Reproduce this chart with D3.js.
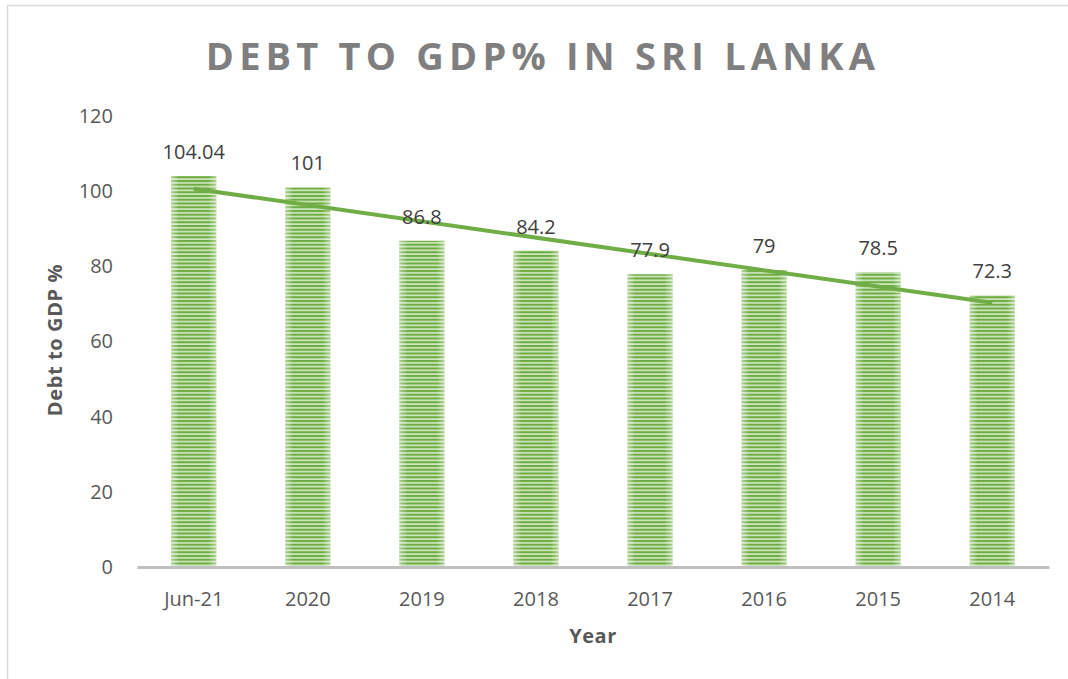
<!DOCTYPE html>
<html>
<head>
<meta charset="utf-8">
<script src="https://cdn.jsdelivr.net/npm/d3@7"></script>
<style>
  body { margin: 0; background: #fff; }
  #chart { width: 1068px; height: 679px; }
  text { font-family: "Open Sans", "Noto Sans", sans-serif; }
</style>
</head>
<body>
<div id="chart"></div>
<script>
const categories = ["Jun-21", "2020", "2019", "2018", "2017", "2016", "2015", "2014"];
const debtValues = [104.04, 101, 86.8, 84.2, 77.9, 79, 78.5, 72.3];
const valueLabels = ["104.04", "101", "86.8", "84.2", "77.9", "79", "78.5", "72.3"];
const yTicks = [0, 20, 40, 60, 80, 100, 120];

const size = {
    width: 1068,
    height: 679,
    margin: { top: 116, right: 19, bottom: 112, left: 137 }
};

const svg = d3.select("#chart").append("svg")
    .attr("width", size.width)
    .attr("height", size.height);

// chart frame
svg.append("rect")
    .attr("x", 7.5).attr("y", 5.5)
    .attr("width", 1100).attr("height", 1000)
    .attr("fill", "#fff").attr("stroke", "#d9d9d9").attr("stroke-width", 1.5);

const defs = svg.append("defs");
const pat = defs.append("pattern")
    .attr("id", "stripes")
    .attr("patternUnits", "userSpaceOnUse")
    .attr("width", 8).attr("height", 3.75);
pat.append("rect").attr("width", 8).attr("height", 3.75).attr("fill", "#cfe5c0");
pat.append("rect").attr("width", 8).attr("height", 2).attr("fill", "#6aad3e");

const grad = defs.append("linearGradient").attr("id", "sheen");
grad.append("stop").attr("offset", "0%").attr("stop-color", "#fff").attr("stop-opacity", 0.45);
grad.append("stop").attr("offset", "18%").attr("stop-color", "#fff").attr("stop-opacity", 0);
grad.append("stop").attr("offset", "82%").attr("stop-color", "#fff").attr("stop-opacity", 0);
grad.append("stop").attr("offset", "100%").attr("stop-color", "#fff").attr("stop-opacity", 0.45);

const xScale = d3.scaleBand()
    .domain(categories)
    .range([size.margin.left, size.width - size.margin.right])
    .paddingInner(0.605)
    .paddingOuter(0.3);

const yScale = d3.scaleLinear()
    .domain([0, 120])
    .range([size.height - size.margin.bottom, size.margin.top]);

// title
svg.append("text")
    .attr("x", 543).attr("y", 70)
    .attr("text-anchor", "middle")
    .attr("font-size", 38).attr("font-weight", "bold")
    .attr("letter-spacing", 5.2)
    .attr("fill", "#7f7f7f")
    .text("DEBT TO GDP% IN SRI LANKA");

// bars
const data = categories.map((c, i) => ({ cat: c, value: debtValues[i], label: valueLabels[i] }));
const bars = svg.append("g");
bars.selectAll("rect.bar")
    .data(data).enter().append("rect")
    .attr("class", "bar")
    .attr("x", d => xScale(d.cat))
    .attr("y", d => yScale(d.value))
    .attr("width", xScale.bandwidth())
    .attr("height", d => yScale(0) - yScale(d.value))
    .attr("fill", "url(#stripes)");
bars.selectAll("rect.sheen")
    .data(data).enter().append("rect")
    .attr("class", "sheen")
    .attr("x", d => xScale(d.cat))
    .attr("y", d => yScale(d.value))
    .attr("width", xScale.bandwidth())
    .attr("height", d => yScale(0) - yScale(d.value))
    .attr("fill", "url(#sheen)");

// x axis line
const xAxis = svg.append("g")
    .attr("transform", `translate(0, ${yScale(0)})`)
    .call(d3.axisBottom(xScale).tickSize(0).tickPadding(25));
xAxis.select(".domain").attr("stroke", "#bfbfbf").attr("stroke-width", 3);
xAxis.selectAll("text")
    .attr("font-size", 20).attr("fill", "#595959")
    .style("font-family", "'Open Sans', sans-serif");

// y axis labels
const yAxis = svg.append("g")
    .attr("transform", `translate(${size.margin.left}, 0)`)
    .call(d3.axisLeft(yScale).tickValues(yTicks).tickSize(0).tickPadding(24));
yAxis.select(".domain").remove();
yAxis.selectAll("text")
    .attr("font-size", 20).attr("fill", "#595959")
    .style("font-family", "'Open Sans', sans-serif");

// linear trendline (least squares over bar index)
const n = debtValues.length;
const xs = d3.range(1, n + 1);
const mx = d3.mean(xs), my = d3.mean(debtValues);
const slope = d3.sum(xs, (x, i) => (x - mx) * (debtValues[i] - my)) / d3.sum(xs, x => (x - mx) ** 2);
const icpt = my - slope * mx;
const line = d3.line()
    .x(d => xScale(d.cat) + xScale.bandwidth() / 2)
    .y(d => yScale(d.v));
svg.append("path")
    .attr("d", line([
        { cat: categories[0], v: icpt + slope * 1 },
        { cat: categories[n - 1], v: icpt + slope * n }
    ]))
    .attr("stroke", "#70ad47").attr("stroke-width", 4).attr("fill", "none");

// data labels
svg.append("g").selectAll("text")
    .data(data).enter().append("text")
    .attr("x", d => xScale(d.cat) + xScale.bandwidth() / 2)
    .attr("y", d => yScale(d.value) - 17)
    .attr("text-anchor", "middle")
    .attr("font-size", 20).attr("fill", "#404040")
    .text(d => d.label);

// axis titles
svg.append("text")
    .attr("transform", "translate(62, 340) rotate(-90)")
    .attr("text-anchor", "middle")
    .attr("font-size", 20).attr("font-weight", "bold")
    .attr("letter-spacing", 0.6)
    .attr("fill", "#595959")
    .text("Debt to GDP %");

svg.append("text")
    .attr("x", 593).attr("y", 643)
    .attr("text-anchor", "middle")
    .attr("font-size", 20).attr("font-weight", "bold")
    .attr("letter-spacing", 0.5)
    .attr("fill", "#595959")
    .text("Year");
</script>
</body>
</html>
